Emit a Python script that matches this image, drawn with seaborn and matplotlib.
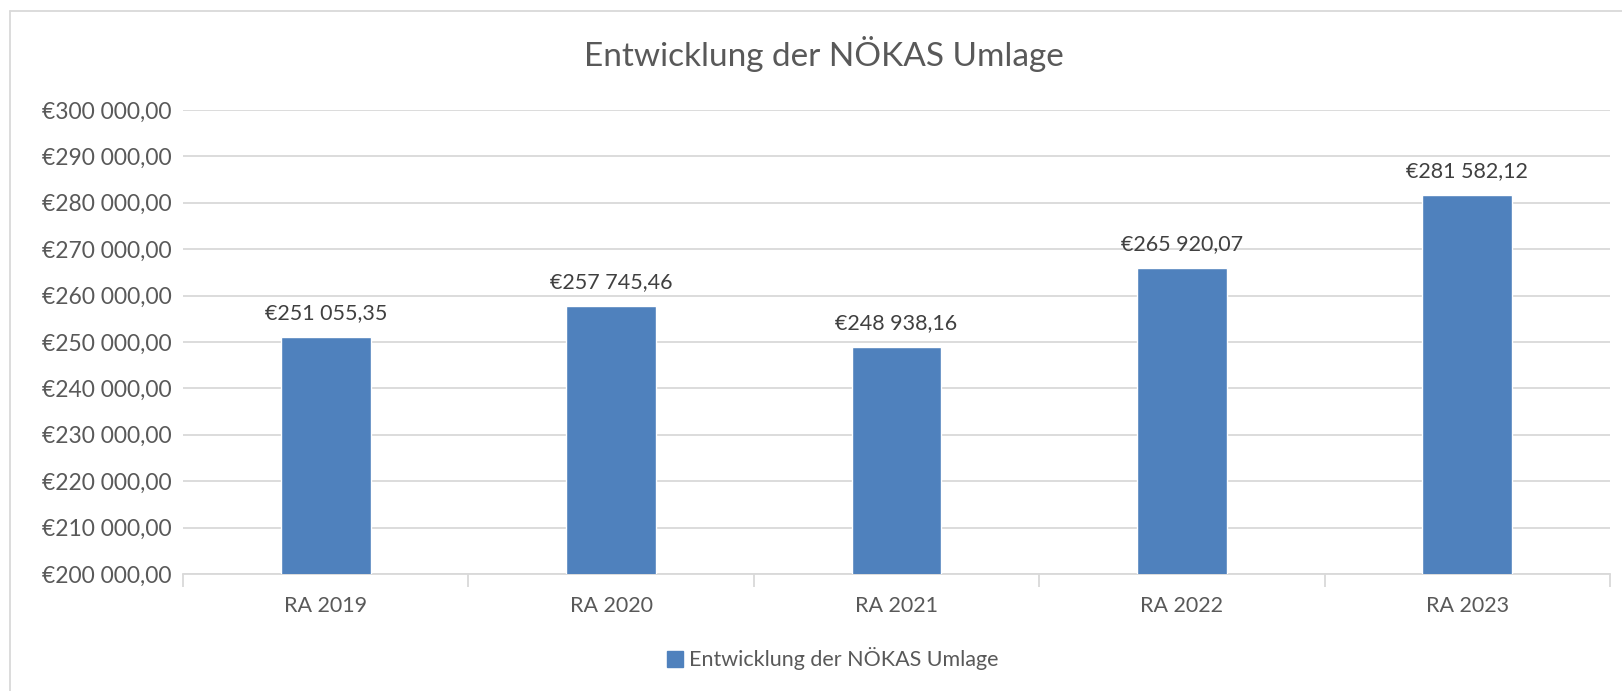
import numpy as np
import pandas as pd
import matplotlib
matplotlib.use("Agg")
import matplotlib.pyplot as plt
import seaborn as sns
from matplotlib.ticker import FuncFormatter, FixedLocator
from matplotlib.lines import Line2D
from matplotlib.patches import Patch

# data
categories = ["RA 2019", "RA 2020", "RA 2021", "RA 2022", "RA 2023"]
values = [251055.35, 257745.46, 248938.16, 265920.07, 281582.12]
series_name = "Entwicklung der NÖKAS Umlage"
y_ticks = list(range(200000, 300001, 10000))

BAR_COLOR = "#4f81bd"
GRID_COLOR = "#d9d9d9"
TEXT_COLOR = "#595959"
LABEL_COLOR = "#404040"


def euro(v, pos=None):
    s = f"{v:,.2f}"
    s = s.replace(",", " ").replace(".", ",")
    return "€" + s


df = pd.DataFrame({"Jahr": categories, "Umlage": values})

sns.set_theme(style="white")
plt.rcParams["font.family"] = ["Lato", "DejaVu Sans"]

W, H = 1622, 691
fig = plt.figure(figsize=(W / 100, H / 100), dpi=100)
ax = fig.add_axes([183 / W, 1 - 574 / H, (1610 - 183) / W, (574 - 110) / H])

sns.barplot(data=df, x="Jahr", y="Umlage", color=BAR_COLOR, width=0.315,
            saturation=1, ax=ax, zorder=3)

ax.set_ylim(200000, 300000)
ax.set_xlim(-0.5, len(categories) - 0.5)
ax.yaxis.set_major_locator(FixedLocator(y_ticks))
ax.yaxis.set_major_formatter(FuncFormatter(euro))
ax.grid(axis="y", color=GRID_COLOR, linewidth=1.3, zorder=0)
ax.set_xlabel("")
ax.set_ylabel("")

for s in ["top", "right", "left"]:
    ax.spines[s].set_visible(False)
ax.spines["bottom"].set_color(GRID_COLOR)
ax.spines["bottom"].set_linewidth(1.3)

ax.tick_params(axis="y", length=0, pad=8, labelsize=16.5, labelcolor=TEXT_COLOR)
ax.tick_params(axis="x", which="major", length=0, pad=16, labelsize=15.5,
               labelcolor=TEXT_COLOR)
ax.set_xticks(np.arange(-0.5, len(categories)), minor=True)
ax.tick_params(axis="x", which="minor", length=9, width=1.3, color=GRID_COLOR,
               bottom=True)

for i, v in enumerate(values):
    ax.annotate(euro(v), (i, v), xytext=(0, 10), textcoords="offset points",
                ha="center", va="bottom", fontsize=15.5, color=LABEL_COLOR)

fig.text(824 / W, 1 - 54 / H, series_name, ha="center", va="center",
         fontsize=24, color=TEXT_COLOR)

leg = fig.legend(handles=[Patch(facecolor=BAR_COLOR, edgecolor=BAR_COLOR)],
                 labels=[series_name], loc="center", bbox_to_anchor=(833 / W, 1 - 659 / H),
                 frameon=False, fontsize=15.5, handlelength=0.7, handleheight=0.7,
                 handletextpad=0.3)
for t in leg.get_texts():
    t.set_color(TEXT_COLOR)

# outer chart frame (top and left edges visible)
fig.add_artist(Line2D([10 / W, 1], [1 - 11 / H, 1 - 11 / H], color=GRID_COLOR, lw=1.3))
fig.add_artist(Line2D([10 / W, 10 / W], [0, 1 - 11 / H], color=GRID_COLOR, lw=1.3))

fig.savefig("out.png", dpi=100, facecolor="white")
